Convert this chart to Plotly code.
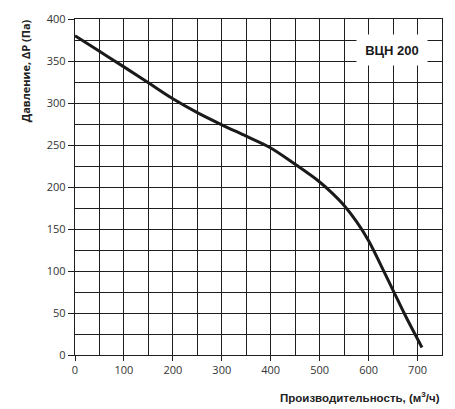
import plotly.graph_objects as go

flow = [0, 50, 100, 150, 200, 250, 300, 350, 400, 450, 500, 525, 550, 575, 600, 625, 650, 675, 700, 709]
pressure = [380, 361.5, 343, 324, 305, 288.5, 274, 260.5, 246.5, 227, 206, 193, 178, 159, 136, 107, 77, 47, 19, 9]

x_ticks = [0, 100, 200, 300, 400, 500, 600, 700]
y_ticks = [0, 50, 100, 150, 200, 250, 300, 350, 400]

fig = go.Figure()
fig.add_trace(go.Scatter(
    x=flow, y=pressure, mode="lines",
    line=dict(color="#1a1a1a", width=3, shape="spline", smoothing=1.0),
    hoverinfo="skip", showlegend=False,
))

grid = "#1e1e1e"
fig.update_xaxes(
    range=[0, 750], tickvals=x_ticks, ticktext=[str(v) for v in x_ticks],
    showgrid=True, gridcolor=grid, gridwidth=1.4,
    minor=dict(dtick=50, tick0=0, showgrid=True, gridcolor=grid, gridwidth=1.4),
    showline=True, linecolor=grid, linewidth=1.4, mirror=True,
    ticks="outside", ticklen=5, tickcolor=grid, tickwidth=1.2,
    zeroline=False, ticklabeloverflow="allow",
    tickfont=dict(family="Open Sans", size=11, color="#333333"),
)
fig.update_yaxes(
    range=[0, 400], tickvals=y_ticks, ticktext=[str(v) for v in y_ticks],
    showgrid=True, gridcolor=grid, gridwidth=1.4,
    minor=dict(dtick=25, tick0=0, showgrid=True, gridcolor=grid, gridwidth=1.4),
    showline=True, linecolor=grid, linewidth=1.4, mirror=True,
    ticks="outside", ticklen=6, tickcolor=grid, tickwidth=1.2,
    zeroline=False, ticklabeloverflow="allow",
    tickfont=dict(family="Open Sans", size=11, color="#333333"),
)

fig.add_annotation(
    x=648, y=363, xref="x", yref="y", text="<b>ВЦН 200</b>", showarrow=False,
    font=dict(family="Liberation Sans", size=13, color="#1a1a1a"),
    bgcolor="white", width=62, height=22, borderpad=4,
)
fig.add_annotation(
    x=1.0, y=-0.098, xref="paper", yref="paper", xanchor="right", yanchor="top",
    text="<b>Производительность, (м<sup>3</sup>/ч)</b>", showarrow=False,
    font=dict(family="Liberation Sans", size=11.5, color="#222222"),
)
fig.add_annotation(
    x=-0.135, y=1.005, xref="paper", yref="paper", xanchor="center", yanchor="top",
    text="<b>Давление, ΔР (Па)</b>", showarrow=False, textangle=-90,
    font=dict(family="Open Sans", size=11, color="#222222"),
)

# the page body adds an 8px margin, so the figure is sized to compensate
fig.update_layout(
    width=447, height=401,
    margin=dict(l=67, r=13, t=3, b=54),
    paper_bgcolor="white", plot_bgcolor="white",
)

fig.write_html("out.html")
